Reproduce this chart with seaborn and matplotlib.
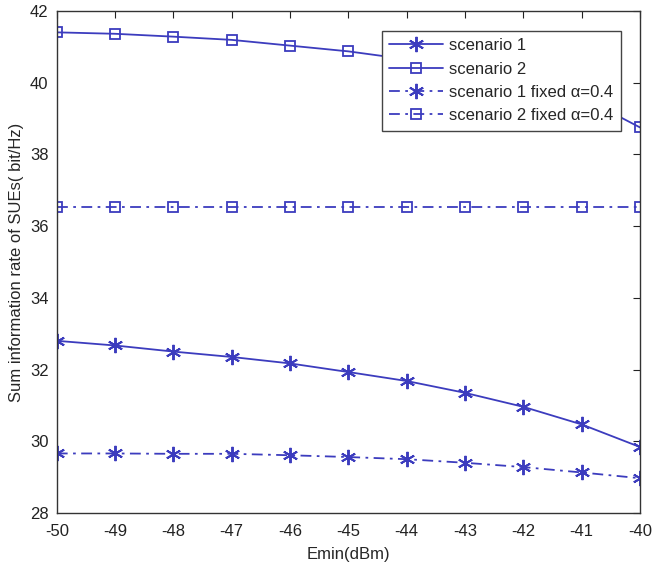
import matplotlib
matplotlib.use("Agg")
import matplotlib.pyplot as plt
import seaborn as sns
import pandas as pd

emin = [-50, -49, -48, -47, -46, -45, -44, -43, -42, -41, -40]
scenario1 = [32.80, 32.67, 32.50, 32.35, 32.17, 31.93, 31.68, 31.35, 30.96, 30.47, 29.84]
scenario2 = [41.40, 41.36, 41.28, 41.19, 41.03, 40.87, 40.65, 40.40, 40.08, 39.60, 38.75]
scenario1_fixed = [29.66, 29.66, 29.65, 29.65, 29.61, 29.56, 29.50, 29.40, 29.28, 29.13, 28.97]
scenario2_fixed = [36.52, 36.52, 36.52, 36.52, 36.52, 36.52, 36.52, 36.52, 36.52, 36.52, 36.52]
labels = ["scenario 1", "scenario 2", "scenario 1 fixed α=0.4", "scenario 2 fixed α=0.4"]

sns.set_style("white")
plt.rcParams["font.family"] = ["Liberation Sans", "DejaVu Sans"]
plt.rcParams["axes.unicode_minus"] = False

fig = plt.figure(figsize=(6.53, 5.70), dpi=100)
ax = fig.add_axes([0.087, 0.100, 0.893, 0.881])

color = "#3c3cbe"
series = [scenario1, scenario2, scenario1_fixed, scenario2_fixed]
markers = [(6, 2, 0), "s", (6, 2, 0), "s"]
styles = ["-", "-", "-.", "-."]
for vals, lab, mk, ls in zip(series, labels, markers, styles):
    df = pd.DataFrame({"x": emin, "y": vals})
    if mk == "s":
        kw = dict(markersize=7, markerfacecolor="none", markeredgewidth=1.3)
    else:
        kw = dict(markersize=11, markeredgewidth=1.4)
    line = sns.lineplot(data=df, x="x", y="y", ax=ax, color=color, linewidth=1.3,
                        marker=mk, markeredgecolor=color, label=lab, **kw).get_lines()[-1]
    if ls == "-.":
        line.set_dashes((6, 3, 1.5, 3))

ax.set_xlim(-50, -40)
ax.set_ylim(28, 42)
ax.set_xticks(emin)
ax.set_yticks(range(28, 43, 2))
ax.tick_params(direction="in", length=5, labelsize=12, top=True, right=True, width=0.8,
               colors="#222222")
ax.tick_params(axis="x", pad=8)
ax.tick_params(axis="y", pad=6)
for s in ax.spines.values():
    s.set_color("#333333")
    s.set_linewidth(1.0)
ax.set_xlabel("Emin(dBm)", fontsize=12, labelpad=6)
ax.set_ylabel("Sum information rate of SUEs( bit/Hz)", fontsize=12, labelpad=4)
leg = ax.legend(loc="upper right", bbox_to_anchor=(0.982, 0.977), fontsize=12, frameon=True,
                fancybox=False, edgecolor="#444444", framealpha=1, handlelength=3.2,
                borderpad=0.45, labelspacing=0.5, handletextpad=0.4)
leg.get_frame().set_linewidth(1.0)

fig.savefig("out.png", dpi=100)
